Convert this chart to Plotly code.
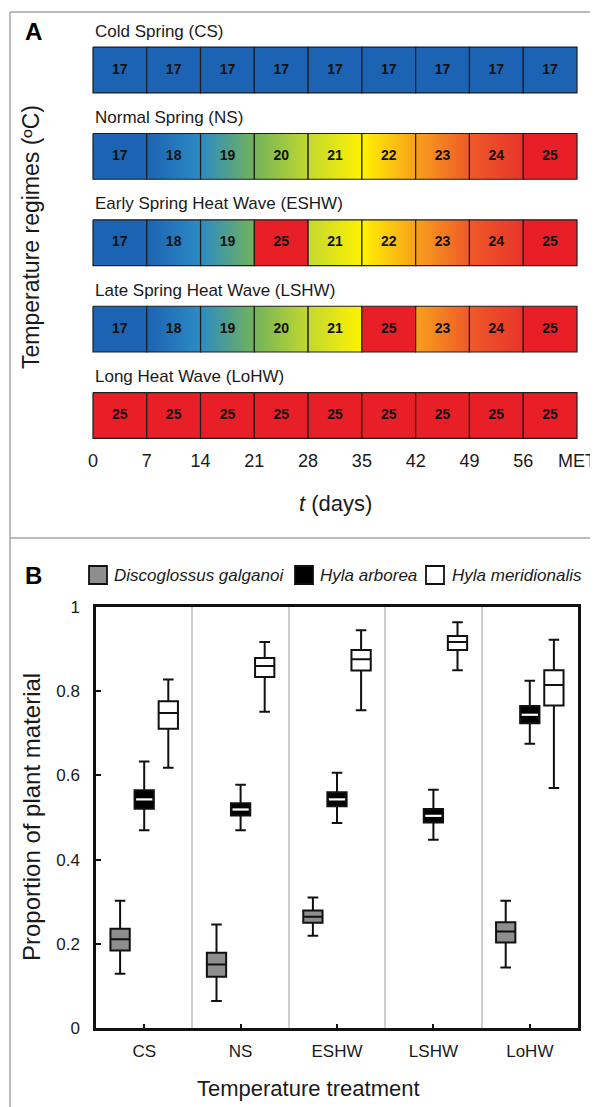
import plotly.graph_objects as go

# ---------------- Panel A data ----------------
day_ticks = [0, 7, 14, 21, 28, 35, 42, 49, 56, 63]
day_labels = ["0", "7", "14", "21", "28", "35", "42", "49", "56", "MET"]
regime_names = ["Cold Spring (CS)", "Normal Spring (NS)",
                "Early Spring Heat Wave (ESHW)", "Late Spring Heat Wave (LSHW)",
                "Long Heat Wave (LoHW)"]
temps_CS = [17, 17, 17, 17, 17, 17, 17, 17, 17]
temps_NS = [17, 18, 19, 20, 21, 22, 23, 24, 25]
temps_ESHW = [17, 18, 19, 25, 21, 22, 23, 24, 25]
temps_LSHW = [17, 18, 19, 20, 21, 25, 23, 24, 25]
temps_LoHW = [25, 25, 25, 25, 25, 25, 25, 25, 25]
regime_temps = [temps_CS, temps_NS, temps_ESHW, temps_LSHW, temps_LoHW]

# ---------------- Panel B data ----------------
treatments = ["CS", "NS", "ESHW", "LSHW", "LoHW"]
species = ["Discoglossus galganoi", "Hyla arborea", "Hyla meridionalis"]

dg_low = [0.129, 0.064, 0.219, None, 0.144]
dg_q1 = [0.184, 0.122, 0.250, None, 0.203]
dg_med = [0.211, 0.151, 0.264, None, 0.229]
dg_q3 = [0.236, 0.179, 0.279, None, 0.251]
dg_high = [0.302, 0.246, 0.310, None, 0.302]

ha_low = [0.470, 0.470, 0.487, 0.447, 0.675]
ha_q1 = [0.521, 0.505, 0.527, 0.488, 0.724]
ha_med = [0.543, 0.519, 0.543, 0.504, 0.744]
ha_q3 = [0.565, 0.534, 0.560, 0.520, 0.765]
ha_high = [0.633, 0.578, 0.606, 0.566, 0.825]

hm_low = [0.618, 0.751, 0.755, 0.850, 0.570]
hm_q1 = [0.711, 0.834, 0.849, 0.898, 0.766]
hm_med = [0.748, 0.860, 0.876, 0.917, 0.815]
hm_q3 = [0.776, 0.879, 0.898, 0.931, 0.850]
hm_high = [0.828, 0.917, 0.945, 0.964, 0.922]

y_ticks = [0, 0.2, 0.4, 0.6, 0.8, 1]
y_labels = ["0", "0.2", "0.4", "0.6", "0.8", "1"]

# ---------------- styles ----------------
OFF = 8                      # page body margin offset
W, H = 598 - OFF, 1107 - OFF  # figure size so it ends at the window edge
FONT = "Liberation Sans, Arial, Helvetica, sans-serif"
TXT = "#1a1a1a"
temp_colors = {17: "#1d63b3", 18: "#2b8bc4", 19: "#72b35a", 20: "#c3d82f",
               21: "#fff200", 22: "#f9a01b", 23: "#ef5a28", 24: "#e8342a",
               25: "#e81f27"}
species_fill = ["#8e8e8e", "#000000", "#ffffff"]
species_offset = [-0.25, 0.0, 0.25]
ROW_H = 0.53


def px(xp):
    """screen pixel x -> paper fraction"""
    return (xp - OFF) / W


def py(yp):
    """screen pixel y -> paper fraction"""
    return 1 - (yp - OFF) / H


fig = go.Figure()

# ---------------- Panel A: cells ----------------
for r, temps in enumerate(regime_temps):
    for i, t in enumerate(temps):
        x0, x1 = day_ticks[i], day_ticks[i + 1]
        y0, y1 = r - ROW_H / 2, r + ROW_H / 2
        left = temp_colors[t] if t == 25 else temp_colors[max(t - 1, 17)]
        right = temp_colors[t]
        fig.add_trace(go.Scatter(
            x=[x0, x1, x1, x0, x0], y=[y0, y0, y1, y1, y0],
            mode="lines", fill="toself",
            fillgradient=dict(type="horizontal", colorscale=[[0, left], [1, right]]),
            line=dict(color="#1e1e1e", width=1.2),
            hoverinfo="skip", showlegend=False, xaxis="x", yaxis="y"))
    fig.add_trace(go.Scatter(
        x=[(day_ticks[i] + day_ticks[i + 1]) / 2 for i in range(len(temps))],
        y=[r] * len(temps), text=[str(t) for t in temps], mode="text",
        textfont=dict(family=FONT, size=14, color="#111111", weight="bold"),
        hoverinfo="skip", showlegend=False, xaxis="x", yaxis="y"))

# ---------------- Panel B: boxes ----------------
sp_low = [dg_low, ha_low, hm_low]
sp_q1 = [dg_q1, ha_q1, hm_q1]
sp_med = [dg_med, ha_med, hm_med]
sp_q3 = [dg_q3, ha_q3, hm_q3]
sp_high = [dg_high, ha_high, hm_high]
BOX_W = 0.2
for s in range(3):
    idx = [k for k in range(len(treatments)) if sp_med[s][k] is not None]
    xs = [k + species_offset[s] for k in idx]
    fig.add_trace(go.Box(
        x=xs,
        lowerfence=[sp_low[s][k] for k in idx],
        q1=[sp_q1[s][k] for k in idx],
        median=[sp_med[s][k] for k in idx],
        q3=[sp_q3[s][k] for k in idx],
        upperfence=[sp_high[s][k] for k in idx],
        width=BOX_W, whiskerwidth=0.55, boxpoints=False,
        fillcolor=species_fill[s], line=dict(color="#111111", width=2),
        name=species[s], showlegend=False, hoverinfo="skip",
        xaxis="x2", yaxis="y2"))

# white median line for the black (Hyla arborea) boxes
mx, my = [], []
for k in range(len(treatments)):
    xc = k + species_offset[1]
    mx += [xc - BOX_W * 0.42, xc + BOX_W * 0.42, None]
    my += [ha_med[k], ha_med[k], None]
fig.add_trace(go.Scatter(x=mx, y=my, mode="lines",
                         line=dict(color="#ffffff", width=2.2),
                         hoverinfo="skip", showlegend=False,
                         xaxis="x2", yaxis="y2"))

# ---------------- Axes ----------------
dpp = 484 / 63  # pixels per day
xa_dom = [px(93 - 0.3 * dpp), px(577 + 0.3 * dpp)]
row_px = 86.375
ya_dom = [py(415.5 + 0.3 * row_px), py(70 - 0.5 * row_px)]

fig.update_layout(
    width=W, height=H, margin=dict(l=0, r=0, t=0, b=0, autoexpand=False),
    paper_bgcolor="white", plot_bgcolor="rgba(0,0,0,0)",
    font=dict(family=FONT, color=TXT),
    showlegend=False,
    xaxis=dict(domain=xa_dom, range=[-0.3, 63.3], anchor="y", automargin=False,
               tickmode="array", tickvals=day_ticks, ticktext=day_labels,
               ticks="outside", ticklen=3, tickcolor="rgba(0,0,0,0)",
               tickfont=dict(size=18, family=FONT, color=TXT),
               showgrid=False, zeroline=False, showline=False, fixedrange=True),
    yaxis=dict(domain=ya_dom, range=[4.3, -0.5], anchor="x", visible=False,
               automargin=False,
               showgrid=False, zeroline=False, fixedrange=True),
    xaxis2=dict(domain=[px(96), px(578)], range=[-0.5, 4.5], anchor="y2",
                automargin=False,
                tickmode="array", tickvals=list(range(len(treatments))),
                ticktext=treatments, ticks="inside", ticklen=4, tickwidth=2,
                tickcolor="#111", ticklabelstandoff=6,
                tickfont=dict(size=17, family=FONT, color=TXT),
                showline=True, linecolor="#111", linewidth=2.5, mirror=True,
                showgrid=False, zeroline=False,
                minor=dict(tickvals=[0.5, 1.5, 2.5, 3.5], showgrid=True,
                           gridcolor="#cfcfcf", gridwidth=1.5, ticks=""),
                fixedrange=True),
    yaxis2=dict(domain=[py(1028), py(607)], range=[0, 1], anchor="x2",
                automargin=False,
                tickmode="array", tickvals=y_ticks, ticktext=y_labels,
                ticks="inside", ticklen=5, tickwidth=2, tickcolor="#111",
                ticklabelstandoff=10,
                tickfont=dict(size=17, family=FONT, color=TXT),
                showline=True, linecolor="#111", linewidth=2.5, mirror=True,
                showgrid=False, zeroline=False, fixedrange=True),
)

# ---------------- Frame lines ----------------
frame = dict(color="#a6a6a6", width=1.5)
fig.add_shape(type="line", xref="paper", yref="paper", x0=px(10), x1=px(10),
              y0=py(12), y1=0, line=frame)
fig.add_shape(type="line", xref="paper", yref="paper", x0=px(10), x1=1,
              y0=py(12), y1=py(12), line=frame)
fig.add_shape(type="line", xref="paper", yref="paper", x0=px(10), x1=1,
              y0=py(538), y1=py(538), line=frame)

# ---------------- Annotations ----------------
ann = []
# row titles
for r, name in enumerate(regime_names):
    ann.append(dict(text=name, x=0, xref="x", y=r - 0.45, yref="y",
                    xanchor="left", yanchor="middle", showarrow=False,
                    font=dict(size=17, family=FONT, color=TXT)))


def label(text, xp, yp, size, angle=0, color=TXT):
    return dict(text=text, x=px(xp), y=py(yp), xref="paper", yref="paper",
                xanchor="center", yanchor="middle", textangle=angle,
                showarrow=False, font=dict(size=size, family=FONT, color=color))


ann += [
    label("<b>A</b>", 33, 32, 24, color="#000"),
    label("<b>B</b>", 33, 575, 24, color="#000"),
    label("Temperature regimes (ºC)", 31, 237, 23, angle=-90),
    label("<i>t</i> (days)", 335, 503, 22),
    label("Proportion of plant material", 31, 817, 24, angle=-90),
    label("Temperature treatment", 309, 1088, 22),
]

# manual legend
leg_sq_x = [89, 295, 426]
leg_txt_x = [112, 318, 450]
for s in range(3):
    fig.add_shape(type="rect", xref="paper", yref="paper",
                  x0=px(leg_sq_x[s]), x1=px(leg_sq_x[s] + 18),
                  y0=py(584), y1=py(566),
                  fillcolor=species_fill[s], line=dict(color="#111", width=1.8))
    ann.append(dict(text="<i>" + species[s] + "</i>", x=px(leg_txt_x[s]),
                    y=py(575), xref="paper", yref="paper", xanchor="left",
                    yanchor="middle", showarrow=False,
                    font=dict(size=17, family=FONT, color=TXT)))

fig.update_layout(annotations=ann)
fig.write_html("out.html")
